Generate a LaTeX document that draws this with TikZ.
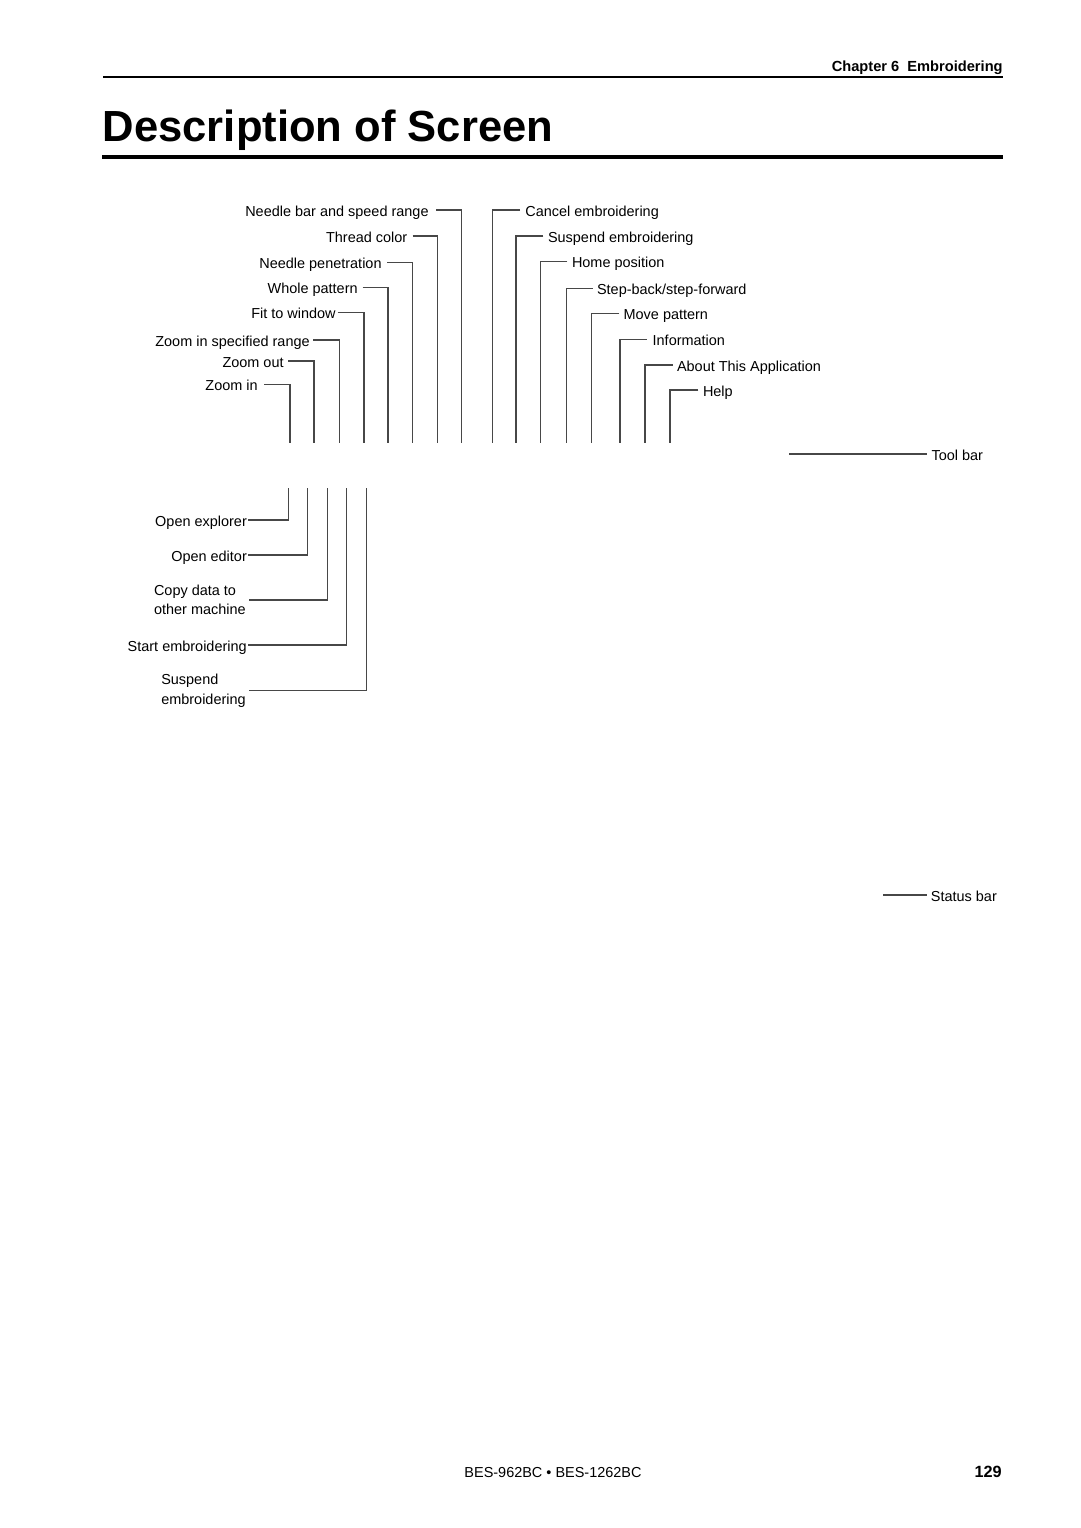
\documentclass[tikz,border=0pt]{standalone}
\usepackage{fontspec}
\setmainfont{Liberation Sans}
\begin{document}
\begin{tikzpicture}[x=0.5512bp,y=-0.5512bp,
  lblfont/.style={font=\fontsize{8}{10}\selectfont},
  lbl/.style={lblfont, inner ysep=0pt, text height=8pt, text depth=1.1pt},
  mlbl/.style={inner ysep=0pt, align=left},
  ldr/.style={draw=black!72, line width=0.75bp},
  hdrrule/.style={draw=black, line width=1.1bp},
  ttlrule/.style={draw=black, line width=2.3bp}]
\fill[white] (0,0) rectangle (1080,1528);
\useasboundingbox (0,0) rectangle (1080,1528);

% ---------- header ----------
\node[anchor=base east, inner sep=0pt, font=\fontsize{8.1}{10}\selectfont\bfseries] (chap) at (1003,71.7) {Chapter 6\ \ Embroidering};
\coordinate (hrL) at (103,77);
\coordinate (hrR) at (1003,77);
\draw[hdrrule] (hrL) -- (hrR);
\node[anchor=base west, inner sep=0pt, font=\fontsize{24.1}{28}\selectfont\bfseries] (title) at (102.5,142) {Description of Screen};
\coordinate (trL) at (102.3,156.7);
\coordinate (trR) at (1003,156.7);
\draw[ttlrule] (trL) -- (trR);

% ---------- upper left cluster ----------
\coordinate (nbB) at (461.7,443);
\coordinate (tcB) at (437.7,443);
\coordinate (npB) at (412.7,443);
\coordinate (wpB) at (388,443);
\coordinate (fwB) at (364,443);
\coordinate (zsB) at (339.3,443);
\coordinate (zoB) at (314,443);
\coordinate (ziB) at (290,443);
\node[lbl, anchor=east, inner xsep=3.9pt] (nb) at (436,210) {Needle bar and speed range};
\node[lbl, anchor=east, inner xsep=2.8pt] (tc) at (412.7,236) {Thread color};
\node[lbl, anchor=east, inner xsep=2.8pt] (np) at (387,262.7) {Needle penetration};
\node[lbl, anchor=east, inner xsep=2.6pt] (wp) at (362.7,287.3) {Whole pattern};
\node[lbl, anchor=east, inner xsep=0.8pt] (fw) at (337.5,312.3) {Fit to window};
\node[lbl, anchor=east, inner xsep=1.8pt] (zs) at (313.3,340) {Zoom in specified range};
\node[lbl, anchor=east, inner xsep=2.4pt] (zo) at (288.3,361) {Zoom out};
\node[lbl, anchor=east, inner xsep=3.3pt] (zi) at (264,384.3) {Zoom in};
\draw[ldr] (nb.east) -| (nbB);
\draw[ldr] (tc.east) -| (tcB);
\draw[ldr] (np.east) -| (npB);
\draw[ldr] (wp.east) -| (wpB);
\draw[ldr] (fw.east) -| (fwB);
\draw[ldr] (zs.east) -| (zsB);
\draw[ldr] (zo.east) -| (zoB);
\draw[ldr] (zi.east) -| (ziB);

% ---------- upper right cluster ----------
\coordinate (ceB) at (492.7,443);
\coordinate (seB) at (516,443);
\coordinate (hpB) at (540.7,443);
\coordinate (sbB) at (566.7,443);
\coordinate (mpB) at (591.7,443);
\coordinate (inB) at (620,443);
\coordinate (abB) at (645,443);
\coordinate (hlB) at (670,443);
\node[lbl, anchor=west, inner xsep=2.8pt] (ce) at (520,210) {Cancel embroidering};
\node[lbl, anchor=west, inner xsep=2.4pt] (se) at (543.3,236) {Suspend embroidering};
\node[lbl, anchor=west, inner xsep=2.4pt] (hp) at (567.3,261.7) {Home position};
\node[lbl, anchor=west, inner xsep=2.2pt] (sb) at (592.7,288.3) {Step-back/step-forward};
\node[lbl, anchor=west, inner xsep=2.2pt] (mp) at (619.3,313.3) {Move pattern};
\node[lbl, anchor=west, inner xsep=3.1pt] (inf) at (646.7,339.3) {Information};
\node[lbl, anchor=west, inner xsep=2.2pt] (ab) at (672.7,365) {About This Application};
\node[lbl, anchor=west, inner xsep=2.4pt] (hl) at (698.3,390) {Help};
\draw[ldr] (ce.west) -| (ceB);
\draw[ldr] (se.west) -| (seB);
\draw[ldr] (hp.west) -| (hpB);
\draw[ldr] (sb.west) -| (sbB);
\draw[ldr] (mp.west) -| (mpB);
\draw[ldr] (inf.west) -| (inB);
\draw[ldr] (ab.west) -| (abB);
\draw[ldr] (hl.west) -| (hlB);

% ---------- tool bar ----------
\coordinate (tbL) at (789.3,454);
\node[lbl, anchor=west, inner xsep=2.5pt] (tb) at (926.7,454) {Tool bar};
\draw[ldr] (tbL) -- (tb.west);

% ---------- lower left cluster ----------
\coordinate (oeT) at (288.3,488);
\coordinate (oedT) at (307.3,488);
\coordinate (cdT) at (327.3,488);
\coordinate (stT) at (346.7,488);
\coordinate (spT) at (366.7,488);
\node[lbl, anchor=east, inner xsep=0.6pt] (oe) at (248.3,520) {Open explorer};
\node[lbl, anchor=east, inner xsep=0.6pt] (oed) at (248.3,555) {Open editor};
\node[mlbl, anchor=east, inner xsep=1.8pt, font=\fontsize{8}{10.6}\selectfont] (cd) at (249.3,600) {Copy data to\\other machine};
\node[lbl, anchor=east, inner xsep=0.7pt] (st) at (248.3,645) {Start embroidering};
\node[mlbl, anchor=east, inner xsep=1.8pt, font=\fontsize{8}{11}\selectfont] (sp) at (249.3,690.7) {Suspend\\embroidering};
\draw[ldr] (oe.east) -| (oeT);
\draw[ldr] (oed.east) -| (oedT);
\draw[ldr] (cd.east) -| (cdT);
\draw[ldr] (st.east) -| (stT);
\draw[ldr] (sp.east) -| (spT);

% ---------- status bar ----------
\coordinate (sbarL) at (883.3,895);
\node[lbl, anchor=west, inner xsep=1.8pt] (sbar) at (927.3,895) {Status bar};
\draw[ldr] (sbarL) -- (sbar.west);

% ---------- footer ----------
\node[anchor=base, inner sep=0pt, font=\fontsize{8}{10}\selectfont] (model) at (553,1477) {BES-962BC • BES-1262BC};
\node[anchor=base east, inner sep=0pt, font=\fontsize{9}{11}\selectfont\bfseries] (page) at (1002,1477.3) {129};
\end{tikzpicture}
\end{document}
